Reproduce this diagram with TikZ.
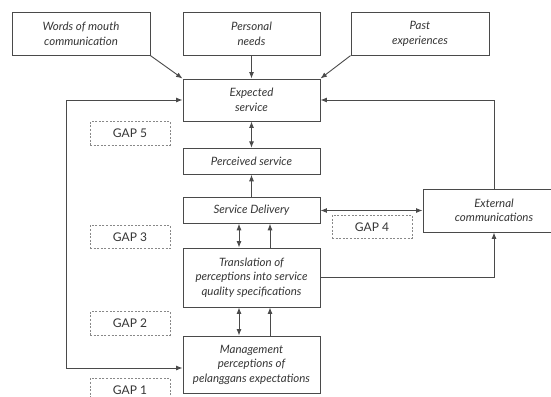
\documentclass[tikz,border=0pt]{standalone}
\usepackage{fontspec}
\setmainfont{Lato}
\usetikzlibrary{arrows.meta}
\definecolor{linec}{HTML}{4A4A4A}
\definecolor{txtc}{HTML}{363636}
\definecolor{gapc}{HTML}{888888}
\begin{document}
\begin{tikzpicture}[x=1pt,y=-1pt,
  box/.style={draw=linec, line width=0.9pt, minimum width=137pt, inner sep=0pt, align=center,
    text=txtc, font=\fontsize{11.5}{14.5}\selectfont\itshape},
  gapbox/.style={draw=gapc, line width=0.7pt, dash pattern=on 2pt off 1.6pt, minimum width=80pt,
    minimum height=23.5pt, inner sep=0pt, text=txtc, font=\fontsize{12}{14}\selectfont},
  conn/.style={draw=linec, line width=0.9pt, -{Latex[length=6.5pt,width=5pt]}},
  dconn/.style={draw=linec, line width=0.9pt, {Latex[length=6.5pt,width=5pt]}-{Latex[length=6.5pt,width=5pt]}}]
\path[use as bounding box, fill=white] (0,0) rectangle (551,396);

\node[box, minimum width=138pt, minimum height=42.3pt] (wom) at (81,34) {Words of mouth\\communication};
\node[box, minimum height=42.3pt] (pn) at (251.5,34) {Personal\\needs};
\node[box, minimum width=138pt, minimum height=42.3pt] (past) at (420,34) {Past\\experiences};
\node[box, minimum height=42pt] (exp) at (251.5,100) {Expected\\service};
\node[box, minimum height=26pt] (perc) at (251.5,161.3) {Perceived service};
\node[box, minimum height=25.6pt] (sd) at (251.5,210.5) {Service Delivery};
\node[box, minimum width=142pt, minimum height=43pt] (ext) at (494,210.5) {External\\communications};
\node[box, minimum height=59pt] (tr) at (251.5,277.5) {Translation of\\perceptions into service\\quality specifications};
\node[box, minimum height=57pt] (mg) at (251.5,364.5) {Management\\perceptions of\\pelanggans expectations};

\node[gapbox] (g5) at (130,133.5) {GAP 5};
\node[gapbox] (g4) at (372,226.8) {GAP 4};
\node[gapbox] (g3) at (130,237) {GAP 3};
\node[gapbox] (g2) at (130,323.5) {GAP 2};
\node[gapbox] (g1) at (130,390) {GAP 1};

\draw[conn] (wom.south east) -- (exp.north west);
\draw[conn] (pn) -- (exp);
\draw[conn] (past.south west) -- (exp.north east);
\draw[dconn] (exp) -- (perc);
\draw[conn] (sd) -- (perc);
\draw[dconn] (sd) -- (ext);
\draw[dconn] ([xshift=-12.5pt]sd.south) -- ([xshift=-12.5pt]tr.north);
\draw[conn] ([xshift=18.5pt]tr.north) -- ([xshift=18.5pt]sd.south);
\draw[dconn] ([xshift=-12.5pt]tr.south) -- ([xshift=-12.5pt]mg.north);
\draw[conn] ([xshift=18.5pt]mg.north) -- ([xshift=18.5pt]tr.south);
\draw[conn] (tr.east) -| (ext.south);
\draw[conn] (ext.north) |- (exp.east);
\coordinate (lc) at (66,368);
\draw[dconn] (exp.west) -| (lc) -- (lc -| mg.west);
\end{tikzpicture}
\end{document}
